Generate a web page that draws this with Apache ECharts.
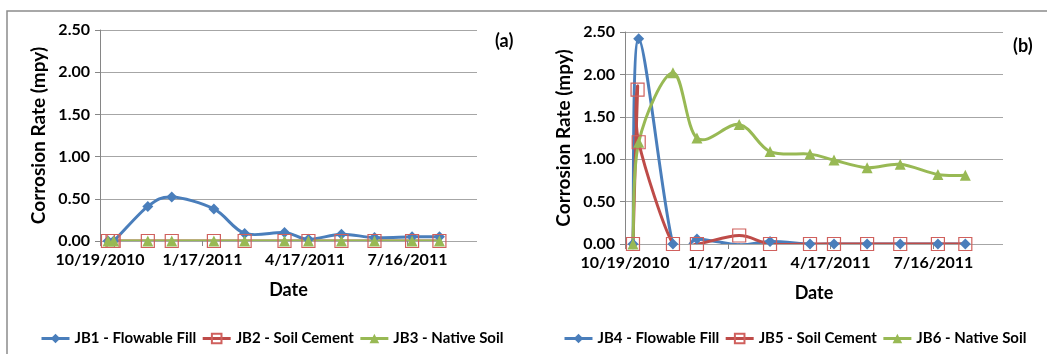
<!DOCTYPE html>
<html>
<head>
<meta charset="utf-8">
<title>Corrosion Rate</title>
<script src="https://cdn.jsdelivr.net/npm/echarts@6/dist/echarts.min.js"></script>
<style>
	html, body { margin: 0; padding: 0; background: #fff; }
	#chart { width: 1047px; height: 354px; }
</style>
</head>
<body>
<div id="chart"></div>
<script>
// dates (M/D/YYYY on the axis), axis starts at 10/19/2010, ticks every 90 days
var startDate = '2010-10-19';
var endDate = '2011-09-15';
var tickDays = 90;

// (a)
var jb1Dates = ['2010-10-26','2010-10-31','2010-11-30','2010-12-21','2011-01-27','2011-02-23','2011-03-30','2011-04-20','2011-05-19','2011-06-17','2011-07-20','2011-08-13'];
var jb1 = [0, 0, 0.41, 0.52, 0.38, 0.09, 0.10, 0.02, 0.08, 0.04, 0.05, 0.05];
var jb2Dates = ['2010-10-26','2010-10-30','2010-10-31','2010-11-30','2010-12-21','2011-01-27','2011-02-23','2011-03-30','2011-04-20','2011-05-19','2011-06-17','2011-07-20','2011-08-13'];
var jb2 = [0, 0, 0, 0, 0, 0, 0, 0, 0, 0, 0, 0, 0];
var jb3Dates = ['2010-10-26','2010-10-31','2010-11-30','2010-12-21','2011-01-27','2011-02-23','2011-03-30','2011-04-20','2011-05-19','2011-06-17','2011-07-20','2011-08-13'];
var jb3 = [0, 0, 0, 0, 0, 0, 0, 0, 0, 0, 0, 0];

// (b)
var jb4Dates = ['2010-10-26','2010-10-31','2010-11-30','2010-12-21','2011-01-27','2011-02-23','2011-03-30','2011-04-20','2011-05-19','2011-06-17','2011-07-20','2011-08-13'];
var jb4 = [0, 2.42, 0, 0.06, -0.01, 0.03, 0, 0, 0, 0, 0, 0];
var jb5Dates = ['2010-10-26','2010-10-30','2010-10-31','2010-11-30','2010-12-21','2011-01-27','2011-02-23','2011-03-30','2011-04-20','2011-05-19','2011-06-17','2011-07-20','2011-08-13'];
var jb5 = [0, 1.82, 1.20, 0, 0, 0.10, 0, 0, 0, 0, 0, 0, 0];
var jb6Dates = ['2010-10-26','2010-10-31','2010-11-30','2010-12-21','2011-01-27','2011-02-23','2011-03-30','2011-04-20','2011-05-19','2011-06-17','2011-07-20','2011-08-13'];
var jb6 = [0, 1.20, 2.02, 1.25, 1.41, 1.09, 1.06, 0.99, 0.90, 0.94, 0.82, 0.81];

var names = ['JB1 - Flowable Fill', 'JB2 - Soil Cement', 'JB3 - Native Soil',
             'JB4 - Flowable Fill', 'JB5 - Soil Cement', 'JB6 - Native Soil'];

var FONT = 'Lato';
var DAY = 86400000;

function toUTC(s) {
	var p = s.split('-');
	return Date.UTC(+p[0], +p[1] - 1, +p[2]);
}
var t0 = toUTC(startDate);
function dayOf(s) { return Math.round((toUTC(s) - t0) / DAY); }
function pairs(dates, vals) {
	return dates.map(function (d, i) { return [dayOf(d), vals[i]]; });
}
function fmtDate(v) {
	var d = new Date(t0 + v * DAY);
	return (d.getUTCMonth() + 1) + '/' + d.getUTCDate() + '/' + d.getUTCFullYear();
}

var blue = '#4A7EBB', red = '#BE4B48', green = '#98B954';
var colors = [blue, red, green];

function xAxisOf(idx) {
	return {
		type: 'value', gridIndex: idx,
		min: 0, max: dayOf(endDate), interval: tickDays,
		name: 'Date', nameLocation: 'middle', nameGap: 40,
		nameTextStyle: { fontFamily: FONT, fontWeight: 'bold', fontSize: 18, color: '#000' },
		axisLine: { show: false },
		axisTick: { show: true, length: 5, lineStyle: { color: '#868686' } },
		axisLabel: { showMaxLabel: false, margin: 11, formatter: fmtDate,
			fontFamily: FONT, fontWeight: 'bold', fontSize: 16, color: '#000' },
		splitLine: { show: false }
	};
}
function yAxisOf(idx) {
	return {
		type: 'value', gridIndex: idx,
		min: 0, max: 2.5, interval: 0.5,
		name: 'Corrosion Rate (mpy)', nameLocation: 'middle', nameGap: 52,
		nameTextStyle: { fontFamily: FONT, fontWeight: 'bold', fontSize: 19, color: '#000' },
		axisLine: { show: true, lineStyle: { color: '#868686', width: 1 } },
		axisTick: { show: true, length: 5, lineStyle: { color: '#868686' } },
		axisLabel: { margin: 10, formatter: function (v) { return v.toFixed(2); },
			fontFamily: FONT, fontWeight: 'bold', fontSize: 16, color: '#000' },
		splitLine: { show: true, lineStyle: { color: '#A6A6A6', width: 1.2 } }
	};
}

// 平滑线：按 Excel 的方式在相邻点之间画贝塞尔曲线（坐标由 api.coord 换算）
function curveSeries(idx, data, kind) {
	return {
		type: 'custom', name: '_curve' + kind + '_' + idx,
		xAxisIndex: idx, yAxisIndex: idx,
		data: data, encode: { x: 0, y: 1 }, silent: true, clip: true,
		renderItem: function (params, api) {
			var i = params.dataIndex;
			var n = data.length;
			if (i >= n - 1) return null;
			var p0 = api.coord(data[Math.max(i - 1, 0)]);
			var p1 = api.coord(data[i]);
			var p2 = api.coord(data[i + 1]);
			var p3 = api.coord(data[Math.min(i + 2, n - 1)]);
			return {
				type: 'bezierCurve',
				shape: {
					x1: p1[0], y1: p1[1], x2: p2[0], y2: p2[1],
					cpx1: p1[0] + (p2[0] - p0[0]) / 6, cpy1: p1[1] + (p2[1] - p0[1]) / 6,
					cpx2: p2[0] - (p3[0] - p1[0]) / 6, cpy2: p2[1] - (p3[1] - p1[1]) / 6
				},
				style: { stroke: colors[kind], lineWidth: 3, fill: null, lineCap: 'round' }
			};
		}
	};
}

// 标记点（线本身透明，图例里仍显示线+标记）
function markSeries(name, idx, data, kind) {
	var s = {
		name: name, type: 'line', xAxisIndex: idx, yAxisIndex: idx,
		data: data, showAllSymbol: true,
		lineStyle: { color: colors[kind], width: 3, opacity: 0 }
	};
	if (kind === 0) {
		s.symbol = 'diamond'; s.symbolSize = 11;
		s.itemStyle = { color: blue };
	} else if (kind === 1) {
		s.symbol = 'rect'; s.symbolSize = 13;
		s.itemStyle = { color: 'rgba(255,255,255,0)', borderColor: '#D0605D', borderWidth: 1.2 };
	} else {
		s.symbol = 'triangle'; s.symbolSize = 11;
		s.itemStyle = { color: green };
	}
	return s;
}

var legendText = { fontFamily: FONT, fontWeight: 'bold', fontSize: 15, color: '#000' };
function legendData(list) {
	return list.map(function (nm, k) {
		return { name: nm, lineStyle: { color: colors[k], width: 3, opacity: 1 } };
	});
}

var series = [];
[[jb1Dates, jb1], [jb2Dates, jb2], [jb3Dates, jb3]].forEach(function (d, k) {
	var pts = pairs(d[0], d[1]);
	series.push(curveSeries(0, pts, k));
	series.push(markSeries(names[k], 0, pts, k));
});
[[jb4Dates, jb4], [jb5Dates, jb5], [jb6Dates, jb6]].forEach(function (d, k) {
	var pts = pairs(d[0], d[1]);
	series.push(curveSeries(1, pts, k));
	series.push(markSeries(names[3 + k], 1, pts, k));
});

var option = {
	animation: false,
	backgroundColor: '#fff',
	grid: [
		{ left: 100, right: 570, top: 30, bottom: 113 },
		{ left: 625, right: 44, top: 32, bottom: 110 }
	],
	xAxis: [xAxisOf(0), xAxisOf(1)],
	yAxis: [yAxisOf(0), yAxisOf(1)],
	legend: [
		{ data: legendData(names.slice(0, 3)), left: 35, top: 326, width: 500, itemWidth: 28, itemHeight: 12, itemGap: 5, textStyle: legendText },
		{ data: legendData(names.slice(3)), left: 558, top: 326, width: 500, itemWidth: 28, itemHeight: 12, itemGap: 5, textStyle: legendText }
	],
	graphic: [
		{ type: 'polyline', shape: { points: [[7, 360], [7, 11], [1050, 11]] },
		  style: { stroke: '#8C8C8C', lineWidth: 1.5, fill: null } },
		{ type: 'text', left: 495, top: 32, style: { text: '(a)', font: 'bold 18px Lato', fill: '#000' } },
		{ type: 'text', left: 1013, top: 37, style: { text: '(b)', font: 'bold 18px Lato', fill: '#000' } }
	],
	series: series
};

var myChart = echarts.init(document.getElementById('chart'));
myChart.setOption(option);
</script>
</body>
</html>
